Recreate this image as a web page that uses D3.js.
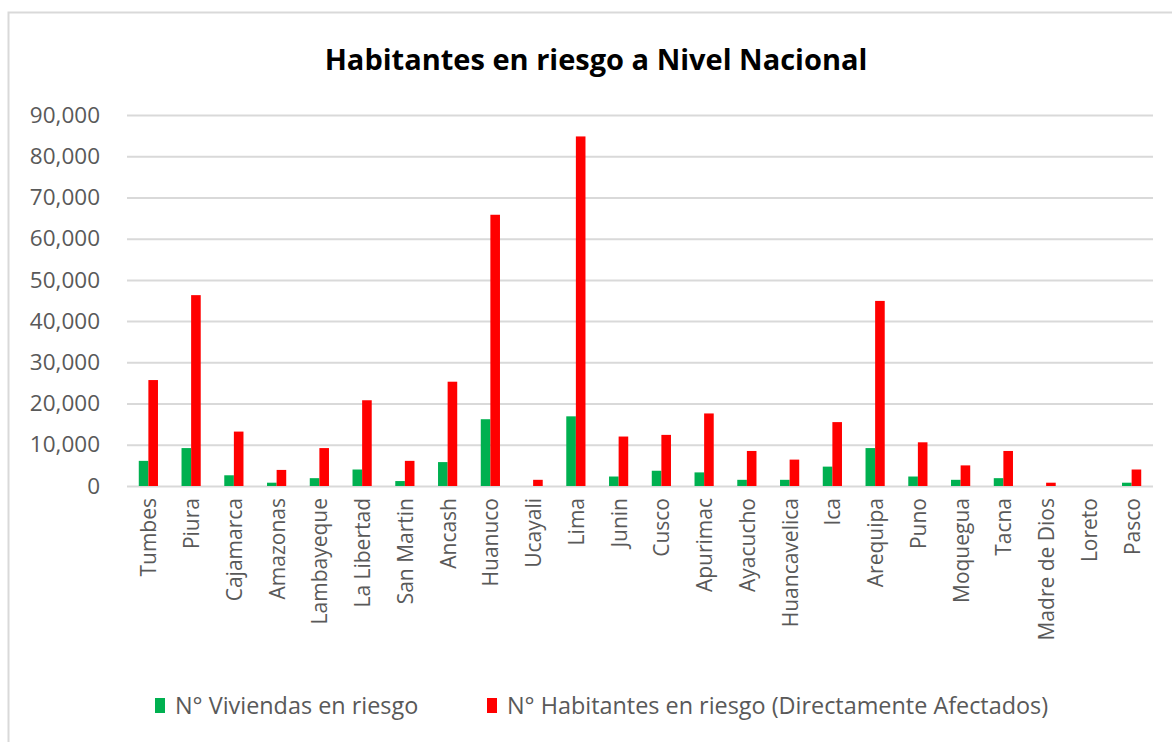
<!DOCTYPE html>
<html>
<head>
<meta charset="utf-8">
<title>Habitantes en riesgo a Nivel Nacional</title>
<script src="https://d3js.org/d3.v7.min.js"></script>
<style>
    body { margin: 0; background: #fff; }
    svg { display: block; font-family: 'Open Sans', 'Liberation Sans', sans-serif; }
    .tick text { fill: #595959; }
</style>
</head>
<body>
<svg id="chart" width="1172" height="742"></svg>
<script>
// data
var regiones = ["Tumbes", "Piura", "Cajamarca", "Amazonas", "Lambayeque", "La Libertad",
    "San Martin", "Ancash", "Huanuco", "Ucayali", "Lima", "Junin", "Cusco", "Apurimac",
    "Ayacucho", "Huancavelica", "Ica", "Arequipa", "Puno", "Moquegua", "Tacna",
    "Madre de Dios", "Loreto", "Pasco"];

var viviendas = [6100, 9200, 2600, 800, 1900, 4000, 1200, 5800, 16200, 0, 16900, 2300,
    3700, 3300, 1500, 1500, 4700, 9200, 2300, 1500, 1900, 0, 0, 800];

var habitantes = [25700, 46300, 13200, 3900, 9200, 20800, 6100, 25300, 65800, 1500, 84800,
    12000, 12400, 17600, 8500, 6400, 15500, 44900, 10600, 5000, 8500, 800, 0, 4000];

var series = ["N° Viviendas en riesgo", "N° Habitantes en riesgo (Directamente Afectados)"];
var colores = ["#00b050", "#ff0000"];
var yTicks = [0, 10000, 20000, 30000, 40000, 50000, 60000, 70000, 80000, 90000];

var svg = d3.select("#chart");

// chart frame (only top and left edges fall inside the picture)
svg.append("rect")
    .attr("x", 8.5).attr("y", 12.5)
    .attr("width", 1200).attr("height", 800)
    .attr("fill", "none")
    .attr("stroke", "#d9d9d9")
    .attr("stroke-width", 2);

svg.append("text")
    .attr("x", 596).attr("y", 70)
    .attr("text-anchor", "middle")
    .attr("font-size", 29)
    .attr("font-weight", "bold")
    .attr("fill", "#000")
    .text("Habitantes en riesgo a Nivel Nacional");

var x = d3.scaleBand().domain(regiones).range([127, 1153]).padding(0);
var y = d3.scaleLinear().domain([0, 90000]).range([486, 115]);

var data = regiones.map(function (r, i) {
    return { region: r, values: [viviendas[i], habitantes[i]] };
});

// grid
var yAxis = svg.append("g")
    .attr("transform", "translate(127,0)")
    .call(d3.axisLeft(y).tickValues(yTicks).tickFormat(d3.format(",")).tickSize(-1026).tickPadding(27));
yAxis.select(".domain").remove();
yAxis.selectAll(".tick line").attr("stroke", "#d9d9d9").attr("stroke-width", 2);
yAxis.selectAll(".tick text").attr("font-size", 22.5).attr("font-family", "'Open Sans', sans-serif");

// bars
var inner = d3.scaleBand().domain([0, 1]).range([-9.6, 9.6]);
var groups = svg.append("g").selectAll("g")
    .data(data)
    .enter().append("g")
    .attr("transform", function (d) { return "translate(" + (x(d.region) + x.bandwidth() / 2) + ",0)"; });

groups.selectAll("rect")
    .data(function (d) { return d.values; })
    .enter().append("rect")
    .attr("x", function (d, i) { return inner(i); })
    .attr("width", inner.bandwidth())
    .attr("y", function (d) { return y(d); })
    .attr("height", function (d) { return y(0) - y(d); })
    .attr("fill", function (d, i) { return colores[i]; });

// category labels
var xAxis = svg.append("g")
    .attr("transform", "translate(0,486)")
    .call(d3.axisBottom(x).tickSize(0).tickPadding(0));
xAxis.select(".domain").remove();
xAxis.selectAll(".tick text")
    .attr("font-size", 21)
    .attr("font-family", "'Open Sans', sans-serif")
    .attr("text-anchor", "end")
    .attr("dy", null)
    .attr("transform", "translate(8,12) rotate(-90)");

// legend
var legendX = [155, 487];
var legend = svg.append("g").selectAll("g")
    .data(series)
    .enter().append("g")
    .attr("transform", function (d, i) { return "translate(" + legendX[i] + ",698)"; });

legend.append("rect")
    .attr("width", 10).attr("height", 15)
    .attr("fill", function (d, i) { return colores[i]; });

legend.append("text")
    .attr("x", 20).attr("y", 16)
    .attr("font-size", 23.4)
    .attr("fill", "#595959")
    .text(function (d) { return d; });
</script>
</body>
</html>
